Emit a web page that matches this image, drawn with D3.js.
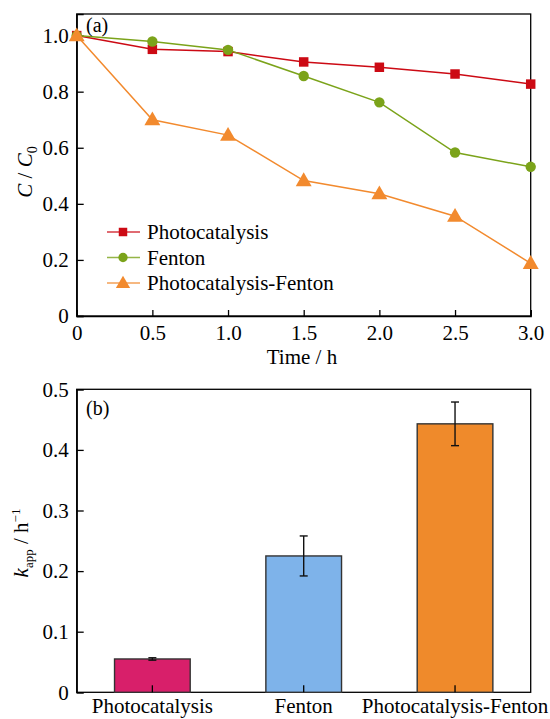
<!DOCTYPE html>
<html>
<head>
<meta charset="utf-8">
<script src="https://cdn.jsdelivr.net/npm/d3@7"></script>
<style>
  body { margin: 0; background: #fff; }
  svg { font-family: "Liberation Serif", "Times New Roman", serif; }
  .axis path, .axis line { stroke: #000; stroke-width: 1.3; }
  .axis text { font-size: 21px; fill: #000; font-family: "Liberation Serif", serif; }
</style>
</head>
<body>
<svg width="550" height="719"></svg>
<script>
// panel (a): C/C0 vs time
const times = [0, 0.5, 1.0, 1.5, 2.0, 2.5, 3.0];
const photo = [1.0, 0.951, 0.943, 0.906, 0.887, 0.863, 0.827];
const fenton = [1.0, 0.979, 0.949, 0.856, 0.762, 0.583, 0.532];
const photoFenton = [1.0, 0.700, 0.645, 0.483, 0.436, 0.356, 0.188];
const seriesNames = ["Photocatalysis", "Fenton", "Photocatalysis-Fenton"];
const xTicksA = [0, 0.5, 1.0, 1.5, 2.0, 2.5, 3.0];
const yTicksA = [0, 0.2, 0.4, 0.6, 0.8, 1.0];

// panel (b): kapp bars
const categories = ["Photocatalysis", "Fenton", "Photocatalysis-Fenton"];
const kapp = [0.055, 0.225, 0.443];
const kappErr = [0.002, 0.033, 0.036];
const yTicksB = [0, 0.1, 0.2, 0.3, 0.4, 0.5];

const lineColors = ["#cc0a14", "#7ba31a", "#f28a2e"];
const barColors = ["#d81f6a", "#7eb3ea", "#ef8a2b"];

const svg = d3.select("svg");
const left = 76.7, right = 530.7;
const fmt = d => d === 0 ? "0" : d3.format(".1f")(d);

// ---------- panel a ----------
const topA = 14, botA = 316;
const x = d3.scaleLinear().domain([0, 3]).range([left, right]);
const y = d3.scaleLinear().domain([0, 1.077]).range([botA, topA]);

svg.append("g").attr("class", "axis")
    .attr("transform", `translate(0,${botA})`)
    .call(d3.axisBottom(x).tickValues(xTicksA).tickSize(-6).tickPadding(9).tickFormat(fmt));
svg.append("g").attr("class", "axis")
    .attr("transform", `translate(${left},0)`)
    .call(d3.axisLeft(y).tickValues(yTicksA).tickSize(-7).tickPadding(8).tickFormat(fmt));
svg.append("rect")
    .attr("x", left).attr("y", topA)
    .attr("width", right - left).attr("height", botA - topA)
    .attr("fill", "none").attr("stroke", "#000").attr("stroke-width", 1.3);

const allSeries = [photo, fenton, photoFenton];
const line = d3.line().x((d, i) => x(times[i])).y(d => y(d));
const symbols = [d3.symbolSquare, d3.symbolCircle, d3.symbolTriangle];
const symSizes = [90, 85, 110];

allSeries.forEach((s, k) => {
  svg.append("path").datum(s)
      .attr("d", line)
      .attr("fill", "none")
      .attr("stroke", lineColors[k])
      .attr("stroke-width", 1.5);
});
allSeries.forEach((s, k) => {
  svg.append("g").selectAll("path")
    .data(s).enter().append("path")
      .attr("transform", (d, i) => `translate(${x(times[i])},${y(d) + (k === 2 ? 1 : 0)})`)
      .attr("d", d3.symbol().type(symbols[k]).size(symSizes[k]))
      .attr("fill", lineColors[k]);
});

// legend
const legend = svg.append("g");
seriesNames.forEach((name, k) => {
  const ly = 232 + k * 25.5;
  legend.append("line")
      .attr("x1", 107).attr("x2", 140).attr("y1", ly).attr("y2", ly)
      .attr("stroke", lineColors[k]).attr("stroke-width", 1.5).attr("opacity", 0.8);
  legend.append("path")
      .attr("transform", `translate(123,${ly + (k === 2 ? 1 : 0)})`)
      .attr("d", d3.symbol().type(symbols[k]).size(symSizes[k] * 0.8))
      .attr("fill", lineColors[k]);
  legend.append("text")
      .attr("x", 147).attr("y", ly + 7)
      .attr("font-size", 21)
      .text(name);
});

svg.append("text").attr("x", 86).attr("y", 32).attr("font-size", 20).text("(a)");

svg.append("text")
    .attr("x", 302).attr("y", 364)
    .attr("text-anchor", "middle").attr("font-size", 21)
    .text("Time / h");

const yTitleA = svg.append("text")
    .attr("transform", "translate(32,172) rotate(-90)")
    .attr("text-anchor", "middle").attr("font-size", 21);
yTitleA.append("tspan").attr("font-style", "italic").text("C");
yTitleA.append("tspan").text(" / ");
yTitleA.append("tspan").attr("font-style", "italic").text("C");
yTitleA.append("tspan").attr("font-size", 14).attr("dy", 5).text("0");

// ---------- panel b ----------
const topB = 389.3, botB = 692.3;
const xb = d3.scaleBand().domain(categories).range([left, right])
    .paddingInner(0.5).paddingOuter(0.25);
const yb = d3.scaleLinear().domain([0, 0.5]).range([botB, topB]);

svg.append("g").attr("class", "axis")
    .attr("transform", `translate(0,${botB})`)
    .call(d3.axisBottom(xb).tickSize(0).tickPadding(6))
    .call(g => g.select(".domain").remove());
svg.append("g").attr("class", "axis")
    .attr("transform", `translate(${left},0)`)
    .call(d3.axisLeft(yb).tickValues(yTicksB).tickSize(-7).tickPadding(8).tickFormat(fmt));
svg.append("rect")
    .attr("x", left).attr("y", topB)
    .attr("width", right - left).attr("height", botB - topB)
    .attr("fill", "none").attr("stroke", "#000").attr("stroke-width", 1.3);

svg.append("g").selectAll("rect")
  .data(kapp).enter().append("rect")
    .attr("x", (d, i) => xb(categories[i]))
    .attr("y", d => yb(d))
    .attr("width", xb.bandwidth())
    .attr("height", d => botB - yb(d))
    .attr("fill", (d, i) => barColors[i])
    .attr("stroke", "#333")
    .attr("stroke-width", 1.4);

// small ticks on bottom axis at bar centres
svg.append("g").selectAll("line")
  .data(categories).enter().append("line")
    .attr("x1", d => xb(d) + xb.bandwidth() / 2)
    .attr("x2", d => xb(d) + xb.bandwidth() / 2)
    .attr("y1", botB).attr("y2", botB - 7)
    .attr("stroke", "#000").attr("stroke-width", 1.3);

// error bars
const eb = svg.append("g").attr("stroke", "#111").attr("stroke-width", 1.4);
kapp.forEach((v, i) => {
  const cx = xb(categories[i]) + xb.bandwidth() / 2;
  const y1 = yb(v + kappErr[i]), y2 = yb(v - kappErr[i]);
  eb.append("line").attr("x1", cx).attr("x2", cx).attr("y1", y1).attr("y2", y2);
  eb.append("line").attr("x1", cx - 4).attr("x2", cx + 4).attr("y1", y1).attr("y2", y1);
  eb.append("line").attr("x1", cx - 4).attr("x2", cx + 4).attr("y1", y2).attr("y2", y2);
});

svg.append("text").attr("x", 86).attr("y", 415).attr("font-size", 20).text("(b)");

const yTitleB = svg.append("text")
    .attr("transform", "translate(28,543) rotate(-90)")
    .attr("text-anchor", "middle").attr("font-size", 21);
yTitleB.append("tspan").attr("font-style", "italic").text("k");
yTitleB.append("tspan").attr("font-size", 13).attr("dy", 5).text("app");
yTitleB.append("tspan").attr("dy", -5).text(" / h");
yTitleB.append("tspan").attr("font-size", 13).attr("dy", -8).text("−1");
</script>
</body>
</html>
